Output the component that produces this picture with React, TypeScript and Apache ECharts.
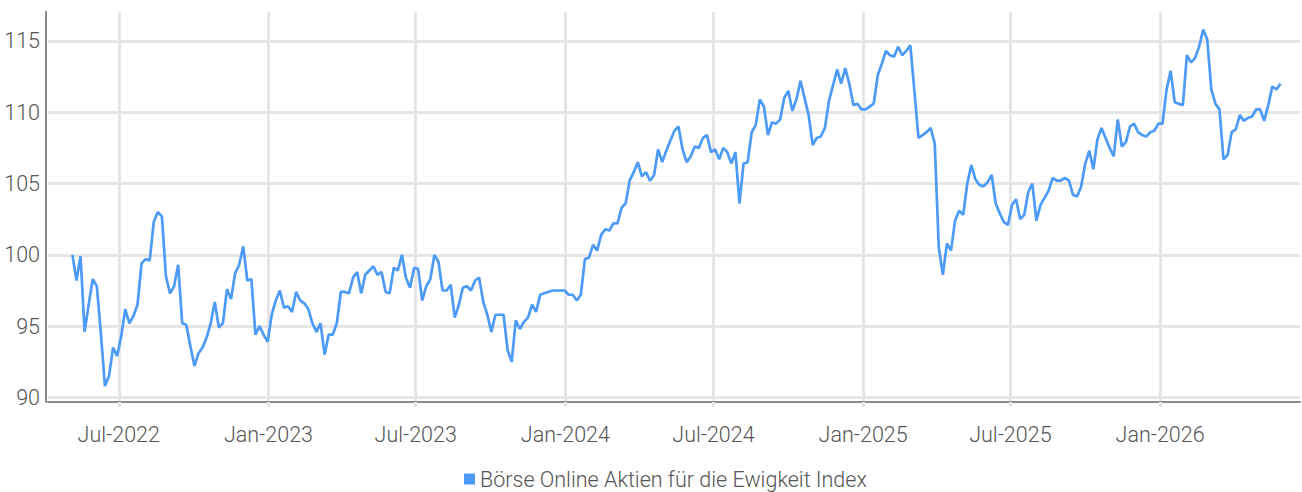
import React, { useEffect, useRef } from 'react';
import * as echarts from 'echarts';

const seriesName = 'Börse Online Aktien für die Ewigkeit Index';
const startDate = '2022-05-05';
const stepDays = 5;
const values = [
  100.0, 98.2, 99.9, 94.6, 96.5, 98.3, 97.8, 94.5, 90.8, 91.5,
  93.5, 92.9, 94.3, 96.2, 95.2, 95.7, 96.5, 99.4, 99.7, 99.6,
  102.3, 103.0, 102.7, 98.5, 97.3, 97.8, 99.3, 95.2, 95.1, 93.6,
  92.2, 93.1, 93.5, 94.2, 95.2, 96.7, 94.9, 95.2, 97.6, 96.9,
  98.7, 99.3, 100.6, 98.2, 98.3, 94.4, 95.0, 94.4, 93.9, 95.8,
  96.8, 97.5, 96.3, 96.4, 96.0, 97.4, 96.8, 96.6, 96.2, 95.2,
  94.6, 95.2, 93.0, 94.4, 94.4, 95.2, 97.4, 97.4, 97.3, 98.4,
  98.8, 97.3, 98.6, 98.9, 99.2, 98.6, 98.8, 97.4, 97.3, 99.1,
  98.9, 100.0, 98.4, 97.7, 99.1, 99.0, 96.8, 97.8, 98.3, 100.0,
  99.5, 97.5, 97.5, 97.9, 95.6, 96.5, 97.7, 97.8, 97.5, 98.2,
  98.4, 96.7, 95.8, 94.6, 95.8, 95.8, 95.8, 93.3, 92.5, 95.4,
  94.8, 95.3, 95.6, 96.5, 96.0, 97.2, 97.3, 97.4, 97.5, 97.5,
  97.5, 97.5, 97.2, 97.2, 96.8, 97.2, 99.7, 99.8, 100.7, 100.3,
  101.4, 101.8, 101.7, 102.2, 102.2, 103.3, 103.6, 105.2, 105.8, 106.5,
  105.5, 105.8, 105.2, 105.6, 107.4, 106.5, 107.3, 108.0, 108.7, 109.0,
  107.4, 106.5, 106.9, 107.6, 107.5, 108.2, 108.4, 107.2, 107.4, 106.7,
  107.5, 107.2, 106.4, 107.2, 103.6, 106.4, 106.5, 108.6, 109.1, 110.9,
  110.4, 108.4, 109.3, 109.2, 109.5, 111.0, 111.5, 110.1, 110.9, 112.2,
  111.0, 109.8, 107.7, 108.2, 108.3, 108.9, 110.8, 111.9, 113.0, 112.0,
  113.1, 112.0, 110.5, 110.6, 110.2, 110.2, 110.4, 110.6, 112.6, 113.4,
  114.3, 114.0, 113.9, 114.6, 114.0, 114.3, 114.7, 111.5, 108.2, 108.4,
  108.6, 108.9, 107.8, 100.5, 98.6, 100.8, 100.3, 102.4, 103.1, 102.8,
  105.0, 106.3, 105.3, 104.9, 104.8, 105.1, 105.6, 103.6, 102.9, 102.3,
  102.1, 103.5, 103.9, 102.5, 102.8, 104.4, 105.0, 102.4, 103.5, 104.0,
  104.5, 105.4, 105.2, 105.2, 105.4, 105.2, 104.2, 104.1, 104.8, 106.4,
  107.3, 106.0, 108.1, 108.9, 108.2, 107.5, 106.9, 109.5, 107.6, 107.9,
  109.0, 109.2, 108.6, 108.4, 108.3, 108.6, 108.7, 109.2, 109.2, 111.6,
  112.9, 110.7, 110.6, 110.5, 114.0, 113.5, 113.8, 114.6, 115.8, 115.1,
  111.6, 110.6, 110.2, 106.7, 107.0, 108.6, 108.8, 109.8, 109.4, 109.6,
  109.7, 110.2, 110.2, 109.4, 110.5, 111.8, 111.6, 112.0,
];

const xTickDates = [
  '2022-07-01', '2023-01-01', '2023-07-01', '2024-01-01',
  '2024-07-01', '2025-01-01', '2025-07-01', '2026-01-01',
];
const xTickLabels = [
  'Jul-2022', 'Jan-2023', 'Jul-2023', 'Jan-2024',
  'Jul-2024', 'Jan-2025', 'Jul-2025', 'Jan-2026',
];
const yTicks = [90, 95, 100, 105, 110, 115];
const xMin = '2022-04-05';
const xMax = '2026-06-22';
const yMin = 89.68;
const yMax = 117.03;

const FONT = "Roboto, 'DejaVu Sans Condensed', sans-serif";
const TEXT_COLOR = '#555555';
const LINE_COLOR = '#4d9bf6';
const GRID_COLOR = '#e6e6e6';
const AXIS_COLOR = '#8c8c8c';

function toTime(s: string): number {
  const [y, m, d] = s.split('-').map(Number);
  return Date.UTC(y, m - 1, d);
}

function buildData(): [number, number][] {
  const [y, m, d] = startDate.split('-').map(Number);
  return values.map((v, i) => [Date.UTC(y, m - 1, d + i * stepDays), v]);
}

export default function App() {
  const ref = useRef<HTMLDivElement>(null);

  useEffect(() => {
    document.body.style.margin = '0';
    if (!ref.current) return;
    const chart = echarts.init(ref.current, null, { renderer: 'svg' });
    const tickTimes = xTickDates.map(toTime);
    chart.setOption({
      animation: false,
      backgroundColor: '#ffffff',
      textStyle: { fontFamily: FONT },
      grid: { left: 48, right: 2, top: 12, bottom: 90, containLabel: false },
      legend: {
        data: [{ name: seriesName, icon: 'rect' }],
        top: 466,
        left: 464,
        padding: 0,
        itemWidth: 11,
        itemHeight: 11,
        itemGap: 5,
        textStyle: { fontFamily: FONT, fontSize: 21.5, fontWeight: 300, color: TEXT_COLOR, lineHeight: 26 },
      },
      xAxis: {
        type: 'value',
        min: toTime(xMin),
        max: toTime(xMax),
        axisLine: { show: true, lineStyle: { color: AXIS_COLOR, width: 2 } },
        axisTick: {
          show: true,
          customValues: tickTimes,
          length: 5,
          lineStyle: { color: GRID_COLOR, width: 3 },
        },
        axisLabel: {
          customValues: tickTimes,
          formatter: (val: number) => {
            const idx = tickTimes.indexOf(val);
            return idx >= 0 ? xTickLabels[idx] : '';
          },
          fontFamily: FONT,
          fontSize: 21.5,
          fontWeight: 300,
          color: TEXT_COLOR,
          margin: 21,
          hideOverlap: false,
        },
        splitLine: { show: true, lineStyle: { color: GRID_COLOR, width: 3 } },
      },
      yAxis: {
        type: 'value',
        min: yMin,
        max: yMax,
        offset: 2,
        axisLine: { show: true, lineStyle: { color: AXIS_COLOR, width: 2 } },
        axisTick: { show: false, customValues: yTicks },
        axisLabel: {
          customValues: yTicks,
          fontFamily: FONT,
          fontSize: 21.5,
          fontWeight: 300,
          color: TEXT_COLOR,
          margin: 6,
        },
        splitLine: { show: true, lineStyle: { color: GRID_COLOR, width: 3 } },
      },
      series: [
        {
          name: seriesName,
          type: 'line',
          data: buildData(),
          showSymbol: false,
          symbol: 'none',
          color: LINE_COLOR,
          lineStyle: { color: LINE_COLOR, width: 2.7 },
        },
      ],
    });
    return () => chart.dispose();
  }, []);

  return <div ref={ref} style={{ width: 1302, height: 492 }} />;
}
